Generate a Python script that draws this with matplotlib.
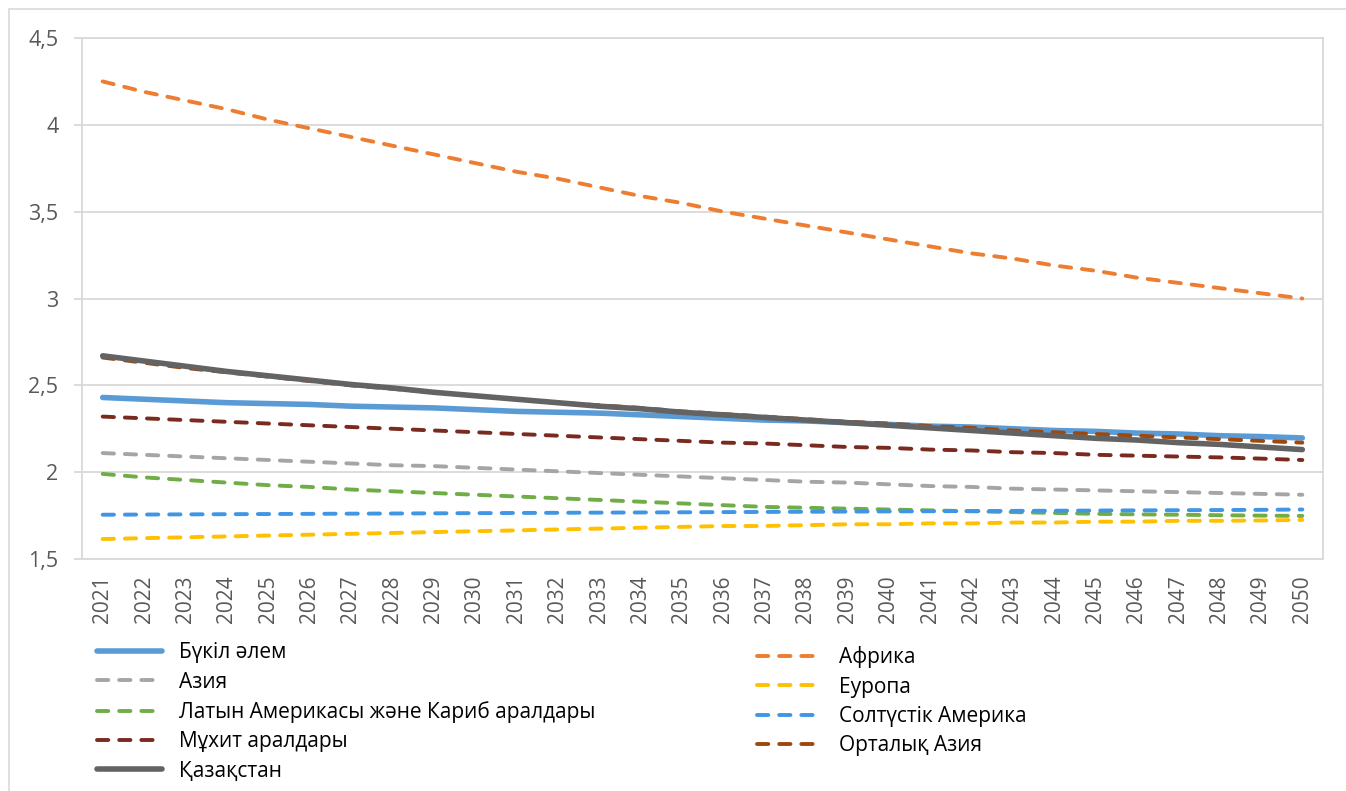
import matplotlib.pyplot as plt
from matplotlib.patches import Rectangle
import numpy as np

plt.rcParams['font.family'] = ['Open Sans', 'DejaVu Sans']

years = list(range(2021, 2051))

world = [2.43, 2.42, 2.41, 2.40, 2.395, 2.39, 2.38, 2.375, 2.37, 2.36, 2.35, 2.345, 2.34, 2.33,
         2.32, 2.31, 2.30, 2.295, 2.285, 2.275, 2.265, 2.26, 2.25, 2.24, 2.235, 2.225, 2.22, 2.21,
         2.205, 2.197]
africa = [4.25, 4.19, 4.14, 4.09, 4.03, 3.98, 3.93, 3.88, 3.83, 3.78, 3.73, 3.69, 3.64, 3.59,
          3.55, 3.50, 3.46, 3.42, 3.38, 3.34, 3.30, 3.26, 3.23, 3.19, 3.16, 3.12, 3.09, 3.06,
          3.03, 3.00]
asia = [2.11, 2.10, 2.09, 2.08, 2.07, 2.06, 2.05, 2.04, 2.035, 2.025, 2.015, 2.005, 1.995, 1.985,
        1.975, 1.965, 1.955, 1.945, 1.94, 1.93, 1.92, 1.915, 1.905, 1.90, 1.895, 1.89, 1.885,
        1.88, 1.875, 1.87]
europe = [1.615, 1.62, 1.625, 1.63, 1.635, 1.64, 1.645, 1.65, 1.655, 1.66, 1.665, 1.67, 1.675,
          1.68, 1.685, 1.69, 1.69, 1.695, 1.70, 1.70, 1.705, 1.705, 1.71, 1.71, 1.715, 1.715,
          1.72, 1.72, 1.722, 1.725]
latam = [1.99, 1.97, 1.955, 1.94, 1.925, 1.915, 1.90, 1.89, 1.88, 1.87, 1.86, 1.85, 1.84, 1.83,
         1.82, 1.81, 1.80, 1.795, 1.79, 1.785, 1.78, 1.775, 1.77, 1.765, 1.76, 1.757, 1.755,
         1.752, 1.75, 1.748]
n_america = [1.755, 1.756, 1.757, 1.758, 1.759, 1.76, 1.761, 1.762, 1.763, 1.764, 1.765, 1.766,
             1.767, 1.768, 1.769, 1.77, 1.771, 1.772, 1.773, 1.774, 1.775, 1.776, 1.777, 1.778,
             1.779, 1.78, 1.781, 1.782, 1.783, 1.785]
oceania = [2.32, 2.31, 2.30, 2.29, 2.28, 2.27, 2.26, 2.25, 2.24, 2.23, 2.22, 2.21, 2.20, 2.19,
           2.18, 2.17, 2.165, 2.155, 2.145, 2.14, 2.13, 2.125, 2.115, 2.11, 2.10, 2.095, 2.09,
           2.085, 2.078, 2.07]
c_asia = [2.66, 2.63, 2.60, 2.575, 2.55, 2.525, 2.50, 2.48, 2.46, 2.44, 2.42, 2.40, 2.385, 2.37,
          2.35, 2.335, 2.32, 2.305, 2.29, 2.28, 2.265, 2.255, 2.24, 2.23, 2.22, 2.21, 2.20, 2.19,
          2.18, 2.17]
kazakhstan = [2.67, 2.64, 2.61, 2.58, 2.555, 2.53, 2.505, 2.485, 2.46, 2.44, 2.42, 2.40, 2.38,
              2.365, 2.345, 2.33, 2.315, 2.30, 2.285, 2.27, 2.255, 2.24, 2.225, 2.21, 2.195, 2.185,
              2.17, 2.16, 2.145, 2.13]

W, H = 1346, 791
fig = plt.figure(figsize=(W / 100, H / 100), dpi=100)
ax = fig.add_axes([82 / W, 1 - 559 / H, (1323 - 82) / W, (559 - 38) / H])

# outer chart border (only top and left visible)
fig.patches.append(Rectangle((9 / W, -0.1), 1.2, 1 - 9 / H + 0.1, transform=fig.transFigure,
                             fill=False, edgecolor='#d9d9d9', linewidth=1.2))

x = np.arange(len(years))
dash = (2.9, 2.8)
series = [
    ('Бүкіл әлем', world, '#5b9bd5', '-', 4.0),
    ('Африка', africa, '#ed7d31', '--', 2.8),
    ('Азия', asia, '#a5a5a5', '--', 2.8),
    ('Еуропа', europe, '#ffc000', '--', 2.8),
    ('Латын Америкасы және Кариб аралдары', latam, '#70ad47', '--', 2.8),
    ('Солтүстік Америка', n_america, '#4095e5', '--', 2.8),
    ('Мұхит аралдары', oceania, '#7b2a20', '--', 2.8),
    ('Орталық Азия', c_asia, '#9e480e', '--', 2.8),
    ('Қазақстан', kazakhstan, '#636363', '-', 4.0),
]
handles = {}
for name, vals, col, ls, lw in series:
    if ls == '--':
        ln, = ax.plot(x, vals, color=col, lw=lw, ls=(0, dash), dash_capstyle='round')
    else:
        ln, = ax.plot(x, vals, color=col, lw=lw, solid_capstyle='round')
    handles[name] = ln

ax.set_xlim(-0.5, len(years) - 0.5)
ax.set_ylim(1.5, 4.5)
yt = [1.5, 2, 2.5, 3, 3.5, 4, 4.5]
ax.set_yticks(yt)
ax.set_yticklabels([f'{v:g}'.replace('.', ',') for v in yt], fontsize=15.5, color='#595959')
ax.set_xticks(x)
ax.set_xticklabels([str(y) for y in years], rotation=90, fontsize=15, color='#595959')
ax.grid(axis='y', color='#d9d9d9', lw=1.3)
ax.set_axisbelow(True)
for s in ax.spines.values():
    s.set_color('#d9d9d9')
    s.set_linewidth(1.3)
ax.tick_params(axis='y', length=6, color='#d9d9d9', width=1.3, pad=11)
ax.tick_params(axis='x', length=0, pad=12)

left_names = ['Бүкіл әлем', 'Азия', 'Латын Америкасы және Кариб аралдары', 'Мұхит аралдары', 'Қазақстан']
right_names = ['Африка', 'Еуропа', 'Солтүстік Америка', 'Орталық Азия']
leg_kw = dict(frameon=False, fontsize=15, handlelength=3.1, handletextpad=0.8,
              labelspacing=0.4, borderaxespad=0, labelcolor='#000000')
fig.legend([handles[n] for n in left_names], left_names, loc='upper left',
           bbox_to_anchor=(89 / W, 1 - 634 / H), **leg_kw)
fig.legend([handles[n] for n in right_names], right_names, loc='upper left',
           bbox_to_anchor=(749 / W, 1 - 638 / H), **leg_kw)

fig.savefig('out.png', dpi=100)
